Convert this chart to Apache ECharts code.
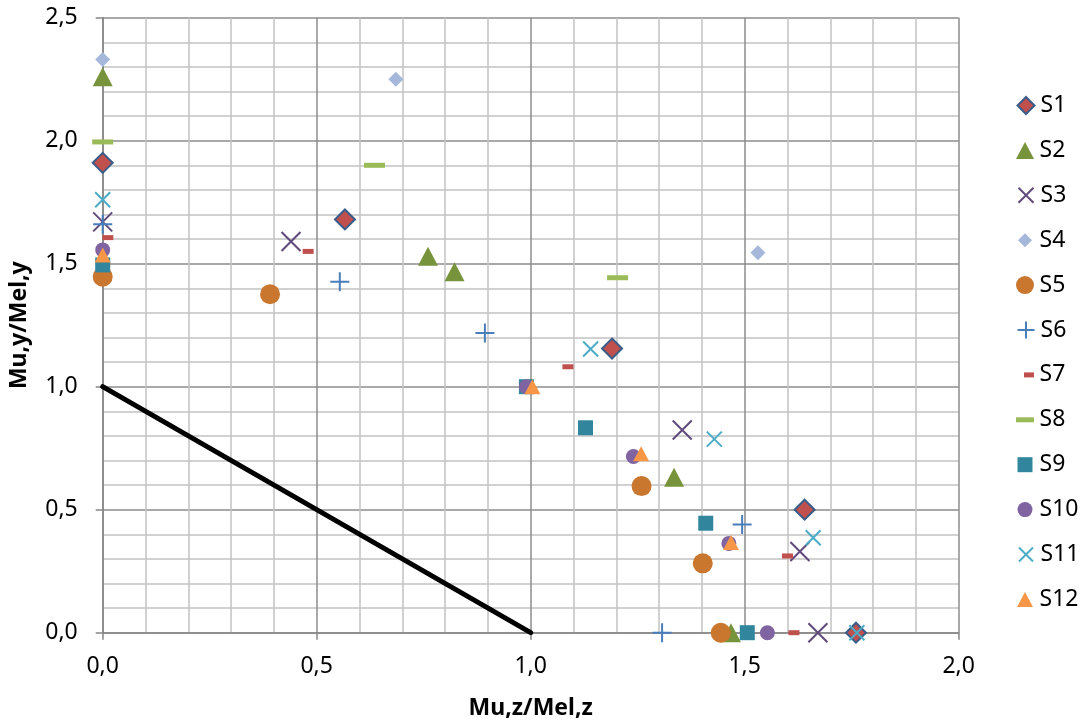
<!DOCTYPE html>
<html>
<head>
<meta charset="utf-8">
<script src="https://cdn.jsdelivr.net/npm/echarts@6/dist/echarts.min.js"></script>
<style>
  html, body { margin: 0; padding: 0; background: #ffffff; }
  #chart { width: 1084px; height: 724px; }
</style>
</head>
<body>
<div id="chart"></div>
<script>
// ---- data: normalised moment pairs (Mu,z/Mel,z ; Mu,y/Mel,y) per specimen series ----
const seriesNames = ['S1', 'S2', 'S3', 'S4', 'S5', 'S6', 'S7', 'S8', 'S9', 'S10', 'S11', 'S12'];

const s1  = [[0, 1.91], [0.566, 1.68], [1.19, 1.155], [1.64, 0.50], [1.76, 0]];
const s2  = [[0, 2.26], [0.76, 1.53], [0.822, 1.467], [1.335, 0.632], [1.468, 0]];
const s3  = [[0, 1.67], [0.44, 1.59], [1.354, 0.824], [1.629, 0.33], [1.671, 0]];
const s4  = [[0, 2.33], [0.685, 2.25], [1.531, 1.545]];
const s5  = [[0, 1.447], [0.391, 1.376], [1.259, 0.596], [1.402, 0.282], [1.444, 0]];
const s6  = [[0, 1.66], [0.554, 1.427], [0.893, 1.218], [1.494, 0.44], [1.307, 0]];
const s7  = [[0.012, 1.606], [0.48, 1.55], [1.087, 1.081], [1.60, 0.312], [1.615, 0]];
const s8  = [[0, 1.995], [0.635, 1.90], [1.203, 1.443]];
const s9  = [[0, 1.495], [0.99, 1.0], [1.128, 0.833], [1.409, 0.445], [1.506, 0]];
const s10 = [[0, 1.556], [0.99, 1.0], [1.24, 0.716], [1.463, 0.363], [1.553, 0]];
const s11 = [[0, 1.76], [1.14, 1.153], [1.429, 0.787], [1.66, 0.386], [1.762, 0]];
const s12 = [[0, 1.535], [1.004, 1.0], [1.258, 0.727], [1.468, 0.367]];

const seriesData = [s1, s2, s3, s4, s5, s6, s7, s8, s9, s10, s11, s12];

// linear interaction limit Mu,z/Mel,z + Mu,y/Mel,y = 1
const limitLine = [[0, 1], [1, 0]];

// axis ranges and tick step
const xRange = [0, 2];
const yRange = [0, 2.5];
const tickStep = 0.5;

const xTitle = 'Mu,z/Mel,z';
const yTitle = 'Mu,y/Mel,y';

// ---- styling ----
const FONT = '"Noto Sans", "Open Sans", sans-serif';
const CROSS = 'path://M0,0L10,10M10,0L0,10';
const PLUS = 'path://M5,0L5,10M0,5L10,5';

const markerStyles = [
  { symbol: 'diamond',  size: [20, 20], color: '#C0504D', border: '#385D8A', bw: 2, legend: [17, 17] },
  { symbol: 'triangle', size: [20, 19], color: '#77933C', legend: [18, 17] },
  { symbol: CROSS,      size: [19, 19], color: '#604A7B', border: '#604A7B', bw: 2, legend: [15, 15] },
  { symbol: 'diamond',  size: [15, 15], color: '#A5B7DA', legend: [14, 14] },
  { symbol: 'circle',   size: [20, 20], color: '#C9772F', legend: [18, 18] },
  { symbol: PLUS,       size: [19, 19], color: '#4A7EBB', border: '#4A7EBB', bw: 2, legend: [17, 17] },
  { symbol: 'rect',     size: [11, 5],  color: '#C0504D', legend: [10, 5], shift: 4 },
  { symbol: 'rect',     size: [21, 5],  color: '#9BBB59', legend: [18, 5] },
  { symbol: 'rect',     size: [15, 15], color: '#31859C', legend: [15, 15] },
  { symbol: 'circle',   size: [15, 15], color: '#8064A2', legend: [15, 15] },
  { symbol: CROSS,      size: [15, 15], color: '#4BACC6', border: '#4BACC6', bw: 2, legend: [14, 14] },
  { symbol: 'triangle', size: [16, 15], color: '#F79646', legend: [16, 15] }
];

const fmt = v => v.toFixed(1).replace('.', ',');

const series = [{
  name: 'limit',
  type: 'line',
  data: limitLine,
  symbol: 'none',
  silent: true,
  z: 1,
  lineStyle: { color: '#000000', width: 5, cap: 'round' }
}];

seriesNames.forEach((name, i) => {
  const st = markerStyles[i];
  series.push({
    name: name,
    type: 'scatter',
    data: seriesData[i],
    symbol: st.symbol,
    symbolSize: st.size,
    clip: false,
    z: 2 + i,
    itemStyle: {
      color: st.color,
      borderColor: st.border || st.color,
      borderWidth: st.bw || 0,
      opacity: 1
    },
    emphasis: { disabled: true }
  });
});

// one legend block per entry so each marker keeps its own proportions
const legendTop = 106;
const legendStep = 44.9;
const legendIconX = 1025;
const legends = seriesNames.map((name, i) => {
  const st = markerStyles[i];
  const w = st.legend[0], h = st.legend[1];
  const cx = legendIconX + (st.shift || 0);
  const textStart = 1039.5;
  const pad = Math.max(0, textStart - (cx - w / 2 + w + 5));
  return {
    data: [name],
    orient: 'vertical',
    left: cx - w / 2,
    top: legendTop + i * legendStep - 12,
    itemWidth: w,
    itemHeight: h,
    padding: 0,
    selectedMode: false,
    textStyle: {
      fontFamily: FONT,
      fontSize: 23,
      color: '#000000',
      padding: [0, 0, 0, pad]
    }
  };
});

const axisCommon = {
  type: 'value',
  interval: tickStep,
  axisLine: { show: true, onZero: false, lineStyle: { color: '#868686', width: 1.5 } },
  axisTick: { show: true, inside: false, length: 7, lineStyle: { color: '#868686', width: 1.5 } },
  splitLine: { show: true, lineStyle: { color: '#8c8c8c', width: 1.5 } },
  minorTick: { show: false, splitNumber: 5 },
  minorSplitLine: { show: true, lineStyle: { color: '#c2c2c2', width: 1.5 } },
  axisLabel: {
    formatter: fmt,
    fontFamily: FONT,
    fontSize: 23,
    color: '#000000'
  },
  nameLocation: 'middle',
  nameMoveOverlap: false,
  nameTextStyle: {
    fontFamily: FONT,
    fontSize: 23,
    fontWeight: 'bold',
    color: '#000000'
  }
};

const option = {
  animation: false,
  backgroundColor: '#ffffff',
  grid: {
    left: 102.7,
    right: 125.3,
    top: 17.7,
    bottom: 91.3,
    containLabel: false,
    outerBoundsMode: 'none'
  },
  xAxis: Object.assign({}, axisCommon, {
    min: xRange[0],
    max: xRange[1],
    name: xTitle,
    nameGap: 64,
    axisLabel: Object.assign({}, axisCommon.axisLabel, { margin: 22 })
  }),
  yAxis: Object.assign({}, axisCommon, {
    min: yRange[0],
    max: yRange[1],
    name: yTitle,
    nameGap: 72,
    nameRotate: 90,
    axisLabel: Object.assign({}, axisCommon.axisLabel, { margin: 25 })
  }),
  legend: legends,
  tooltip: { show: false },
  series: series
};

const chart = echarts.init(document.getElementById('chart'), null, { renderer: 'canvas' });
chart.setOption(option);
</script>
</body>
</html>
